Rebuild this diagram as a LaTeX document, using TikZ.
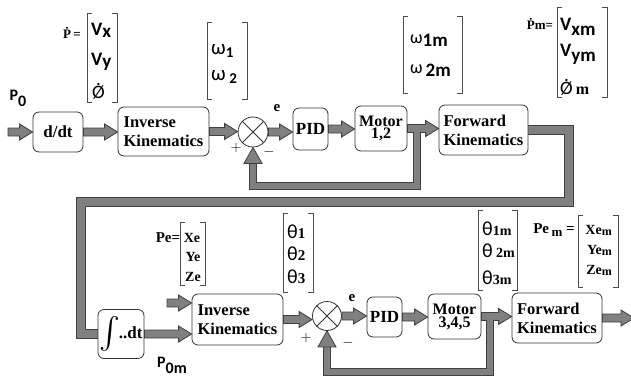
\documentclass[tikz,border=0pt]{standalone}
\usepackage{fontspec}
\setmainfont{Liberation Serif}
\newfontfamily\sanf{Carlito}
\usetikzlibrary{calc}
\pgfdeclarelayer{bg}
\pgfsetlayers{bg,main}
\newcommand\fsz[1]{\fontsize{#1}{#1}\selectfont}
\newcommand\dotO{{\ooalign{\hidewidth\raisebox{13pt}{.}\hidewidth\cr Ø}}}
\newcommand\barrow[2]{\draw[blk] let \p1=#1, \p2=#2 in
  (\x1,\y1+4pt) -- (\x2-13pt,\y1+4pt) -- (\x2-13pt,\y1+8pt) -- (\x2,\y1) --
  (\x2-13pt,\y1-8pt) -- (\x2-13pt,\y1-4pt) -- (\x1,\y1-4pt) -- cycle;}
\newcommand\mbr[4]{\draw[brk] (#1+5,#3) -- (#1,#3) -- (#1,#4) -- (#1+5,#4);
  \draw[brk] (#2-5,#3) -- (#2,#3) -- (#2,#4) -- (#2-5,#4);}
\begin{document}
\begin{tikzpicture}[x=1pt,y=-1pt,
  box/.style={draw=black!80, line width=0.8pt, rounded corners=6pt, fill=white,
    inner sep=0pt, font=\bfseries\fontsize{16.5}{19}\selectfont, align=left},
  blk/.style={draw=black!75, fill=black!50, line width=0.8pt, line join=miter},
  sumj/.style={circle, draw=black!80, line width=0.8pt, inner sep=0pt, fill=white},
  fbpipe/.style={draw=black!75, line width=8pt, postaction={draw=black!50, line width=6pt}},
  bigpipe/.style={draw=black!75, line width=9.5pt, postaction={draw=black!50, line width=7.5pt}},
  brk/.style={draw=black!70, line width=0.9pt},
  lbl/.style={inner sep=0pt},
  elbl/.style={inner sep=0pt, font=\bfseries\fsz{15}},
  pm/.style={inner sep=0pt, font=\fsz{15}}
]
\useasboundingbox (0,0) rectangle (631,378);

% top row
\node[box, minimum width=50pt, minimum height=40pt, font=\bfseries\fsz{17}] (ddt) at (58,132) {d/dt};
\node[box, minimum width=91pt, minimum height=49pt] (ik1) at (163.5,131.5) {Inverse\\Kinematics};
\node[sumj, minimum size=30pt] (s1) at (253,132) {};
\node[box, minimum width=35pt, minimum height=42pt, font=\bfseries\fsz{17}] (pid1) at (310.5,129) {PID};
\node[box, minimum width=52pt, minimum height=45pt, align=center, font=\bfseries\fontsize{16}{12}\selectfont] (mot1) at (381,128.5) {Motor\\1,2};
\node[box, minimum width=89pt, minimum height=50pt] (fk1) at (483.5,130) {Forward\\Kinematics};

% bottom row
\node[box, minimum width=46pt, minimum height=49pt, font=\bfseries\fsz{17}] (int) at (121,334) {\raisebox{-9pt}{\resizebox{!}{31pt}{$\int$}}\hspace{-1.5pt}..dt};
\node[box, minimum width=91pt, minimum height=51pt] (ik2) at (237.5,319.5) {Inverse\\Kinematics};
\node[sumj, minimum size=29pt] (s2) at (327,316) {};
\node[box, minimum width=35pt, minimum height=40pt, font=\bfseries\fsz{17}] (pid2) at (384.5,317) {PID};
\node[box, minimum width=53pt, minimum height=45pt, align=center, font=\bfseries\fontsize{16}{13}\selectfont] (mot2) at (454.5,316.5) {Motor\\3,4,5};
\node[box, minimum width=90pt, minimum height=50pt] (fk2) at (557,318) {Forward\\Kinematics};

% white page and big return pipe, behind the boxes
\begin{pgfonlayer}{bg}
\fill[white] (0,0) rectangle (631,378);
\draw[bigpipe, line join=miter] (fk1.east) -| (569,202) -- (81,202) |- (int.west);
\end{pgfonlayer}

\foreach \s in {s1,s2}{
  \draw[line width=0.8pt, black!80] (\s.north west) -- (\s.south east) (\s.north east) -- (\s.south west);}

% block arrows
\coordinate (p0) at (8,132);
\coordinate (pe) at (167,303);
\coordinate (out) at (634,318);
\barrow{(p0)}{(ddt.west)}
\barrow{(ddt.east)}{(ik1.west)}
\barrow{(ik1.east)}{(s1.west)}
\barrow{(s1.east)}{(pid1.west)}
\barrow{(pid1.east)}{(mot1.west)}
\barrow{(mot1.east)}{(fk1.west)}
\barrow{(int.east)}{(ik2.west)}
\barrow{(pe)}{(ik2.west)}
\barrow{(ik2.east)}{(s2.west)}
\barrow{(s2.east)}{(pid2.west)}
\barrow{(pid2.east)}{(mot2.west)}
\barrow{(mot2.east)}{(fk2.west)}
\barrow{(fk2.east)}{(out)}

% feedback pipes
\coordinate (f1) at ($(mot1.east)+(10,3)$);
\coordinate (h1) at ($(s1.south)+(0,16)$);
\draw[fbpipe, line join=miter] (f1) -- (f1 |- 0,186) -| (h1);
\draw[blk] ($(s1.south)+(-9,16)$) -- (s1.south) -- ($(s1.south)+(9,16)$) -- cycle;
\coordinate (f2) at ($(mot2.east)+(9,3)$);
\coordinate (h2) at ($(s2.south)+(0,16)$);
\draw[fbpipe, line join=miter] (f2) -- (f2 |- 0,372) -| (h2);
\draw[blk] ($(s2.south)+(-9,16)$) -- (s2.south) -- ($(s2.south)+(9,16)$) -- cycle;

% signs and error labels
\node[pm] (pl1) at (236,148) {$+$};
\node[pm] (mi1) at (269,152) {$-$};
\node[pm] (pl2) at (306,338) {$+$};
\node[pm] (mi2) at (348,343) {$-$};
\node[elbl] (e1) at (277,108) {e};
\node[elbl] (e2) at (352,298) {e};

% P0 labels
\node[lbl, font=\sanf\bfseries\fsz{16}] (lp0) at (18,98) {P\raisebox{-6pt}{0}};
\node[lbl, font=\sanf\bfseries\fsz{16}] (lp0m) at (172,365) {P\raisebox{-6pt}{0m}};

% matrix 1: Pdot
\node[lbl, font=\bfseries\fsz{13}] (m1l) at (72,33) {\.{P}\,=};
\mbr{87}{117}{13}{102}
\node[lbl, anchor=west, font=\sanf\bfseries\fsz{19}] (m1a) at (91,30) {V\raisebox{-2pt}{x}};
\node[lbl, anchor=west, font=\sanf\bfseries\fsz{19}] (m1b) at (91,62) {V\raisebox{-2pt}{y}};
\node[lbl, anchor=west, font=\sanf\fsz{19}] (m1c) at (92,91) {\dotO};

% matrix 2: omega
\mbr{207}{247}{22}{99}
\node[lbl, anchor=west, font=\sanf\fsz{21}] (m2a) at (211,51) {ω\raisebox{-3pt}{\bfseries\fsz{15}1}};
\node[lbl, anchor=west, font=\sanf\fsz{21}] (m2b) at (211,77) {ω\,\raisebox{-3pt}{\bfseries\fsz{15}2}};

% matrix 3: omega m
\mbr{403}{462}{16}{93}
\node[lbl, anchor=west, font=\sanf\fsz{18}] (m3a) at (410,40) {\raisebox{3pt}{ω}{\bfseries\fsz{19}1m}};
\node[lbl, anchor=west, font=\sanf\fsz{18}] (m3b) at (410,70) {\raisebox{3pt}{ω}\,{\bfseries\fsz{19}2m}};

% matrix 4: Pdot m
\node[lbl, font=\bfseries\fsz{13}] (m4l) at (540,24) {\.{P}m=};
\mbr{557}{607}{7}{97}
\node[lbl, anchor=west, font=\sanf\bfseries\fsz{19}] (m4a) at (560,27) {V\raisebox{-5pt}{xm}};
\node[lbl, anchor=west, font=\sanf\bfseries\fsz{19}] (m4b) at (560,54) {V\raisebox{-5pt}{ym}};
\node[lbl, anchor=west, font=\sanf\fsz{19}] (m4c) at (560,87) {\dotO\,{\rmfamily\bfseries\fsz{16}m}};

% matrix 5: Pe
\node[lbl, font=\bfseries\fsz{15}] (m5l) at (168,238) {Pe=};
\mbr{180}{205}{222}{285}
\node[lbl, font=\bfseries\fsz{14}] (m5a) at (192,238) {Xe};
\node[lbl, font=\bfseries\fsz{14}] (m5b) at (193,257) {Ye};
\node[lbl, font=\bfseries\fsz{14}] (m5c) at (193,277) {Ze};

% matrix 6: theta
\mbr{283}{313}{213}{292}
\node[lbl, anchor=west, font=\sanf\fsz{20}] (m6a) at (287,232) {θ{\rmfamily\bfseries\fsz{15}1}};
\node[lbl, anchor=west, font=\sanf\fsz{20}] (m6b) at (287,254) {θ{\rmfamily\bfseries\fsz{15}2}};
\node[lbl, anchor=west, font=\sanf\fsz{20}] (m6c) at (287,277) {θ{\rmfamily\bfseries\fsz{15}3}};

% matrix 7: theta m
\mbr{478}{517}{210}{290}
\node[lbl, anchor=west, font=\sanf\fsz{20}] (m7a) at (482,229) {θ{\rmfamily\bfseries\fsz{14}1m}};
\node[lbl, anchor=west, font=\sanf\fsz{20}] (m7b) at (482,251) {θ\,{\rmfamily\bfseries\fsz{14}2m}};
\node[lbl, anchor=west, font=\sanf\fsz{20}] (m7c) at (482,278) {θ{\rmfamily\bfseries\fsz{14}3m}};

% matrix 8: Pe m
\node[lbl, font=\bfseries\fsz{15}] (m8l) at (554,230) {Pe\,\raisebox{-3pt}{\fsz{13}m} =};
\mbr{578}{618}{215}{287}
\node[lbl, anchor=east, font=\bfseries\fsz{14}] (m8a) at (612,230) {Xe\raisebox{-1pt}{\fsz{12}m}};
\node[lbl, anchor=east, font=\bfseries\fsz{14}] (m8b) at (612,250) {Ye\raisebox{-1pt}{\fsz{12}m}};
\node[lbl, anchor=east, font=\bfseries\fsz{14}] (m8c) at (612,270) {Ze\raisebox{-1pt}{\fsz{12}m}};
\end{tikzpicture}
\end{document}
